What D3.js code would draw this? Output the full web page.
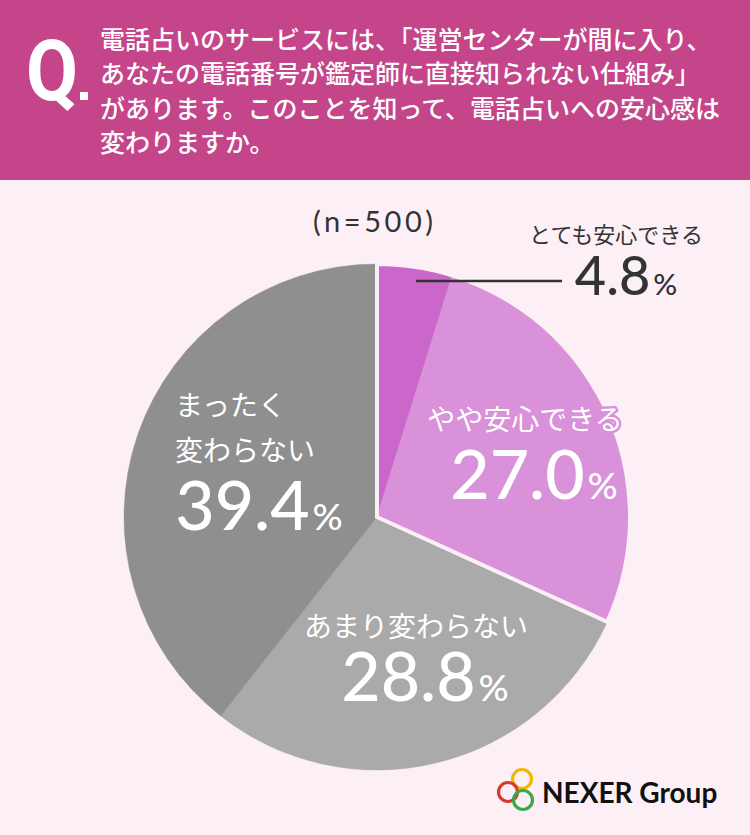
<!DOCTYPE html>
<html><head><meta charset="utf-8">
<script src="https://cdn.jsdelivr.net/npm/d3@7/dist/d3.min.js"></script>
<style>
html,body{margin:0;padding:0;background:#fcf0f6;}
svg{display:block;font-family:"Noto Sans CJK JP","Noto Sans",sans-serif;}
</style></head>
<body>
<svg id="chart" width="750" height="835"></svg>
<script>
const categories = ["とても安心できる","やや安心できる","あまり変わらない","まったく変わらない"];
const values = [4.8, 27.0, 28.8, 39.4];
const colors = ["#cb67cb","#d992d9","#aaaaaa","#8f8f8f"];
const questionLines = [
  "電話占いのサービスには、「運営センターが間に入り、",
  "あなたの電話番号が鑑定師に直接知られない仕組み」",
  "があります。このことを知って、電話占いへの安心感は",
  "変わりますか。"
];
const sampleLabel = "(n=500)";

const svg = d3.select("#chart");
const W = 750, H = 835;
svg.append("rect").attr("width",W).attr("height",H).attr("fill","#fcf0f6");

// Header
svg.append("rect").attr("width",W).attr("height",180).attr("fill","#c4458a");
svg.append("text").attr("x",26).attr("y",100).attr("fill","#fff")
  .attr("font-size",86).attr("font-weight",700).attr("font-family","Roboto, 'Noto Sans', sans-serif")
  .attr("textLength",52).attr("lengthAdjust","spacingAndGlyphs").text("Q");
svg.append("rect").attr("x",80).attr("y",92).attr("width",8).attr("height",8).attr("fill","#fff");
const qt = svg.append("text").attr("fill","#fff").attr("font-size",25).attr("font-weight",500);
questionLines.forEach((l,i)=>{
  qt.append("tspan").attr("x",100).attr("y",49+i*34.3).text(l);
});

// Pie
const cx = 377, cy = 517, R = 253;
const pie = d3.pie().sort(null).value(d=>d);
const arcs = pie(values);
const arcGen = d3.arc().innerRadius(0).outerRadius(R);
const g = svg.append("g").attr("transform",`translate(${cx},${cy})`);
g.selectAll("path.slice").data(arcs).join("path").attr("class","slice")
  .attr("d",arcGen).attr("fill",(d,i)=>colors[i]).attr("stroke",(d,i)=>colors[i]).attr("stroke-width",0.5);
// white outline around the "安心" group
const groupArc = {startAngle: arcs[0].startAngle, endAngle: arcs[1].endAngle};
g.append("path").attr("d",arcGen(groupArc)).attr("fill","none")
  .attr("stroke","#fcf0f6").attr("stroke-width",4).attr("stroke-linejoin","miter");

// n label
svg.append("text").attr("x",313).attr("y",232)
  .attr("font-size",29).attr("fill","#333").attr("font-family","Lato, 'Noto Sans CJK JP', sans-serif")
  .attr("textLength",120).attr("lengthAdjust","spacing").text(sampleLabel);

// Leader for small slice
svg.append("line").attr("x1",416).attr("x2",562).attr("y1",281).attr("y2",281)
  .attr("stroke","#333").attr("stroke-width",2.5);
svg.append("text").attr("x",616).attr("y",243).attr("text-anchor","middle")
  .attr("font-size",22).attr("fill","#333").text(categories[0]);

function pct(x,y,v,size,color,anchor){
  const t = svg.append("text").attr("x",x).attr("y",y).attr("text-anchor",anchor||"middle")
    .attr("fill",color).attr("font-family","Lato, 'Noto Sans', sans-serif").attr("font-weight",500);
  t.append("tspan").attr("font-size",size).text(v.toFixed(1));
  t.append("tspan").attr("font-size",size*0.55).attr("dx",3).text("%");
  return t;
}
pct(626,295,values[0],54,"#333");

// やや安心できる
svg.append("text").attr("x",525).attr("y",430).attr("text-anchor","middle")
  .attr("font-size",28).attr("fill","#fff").attr("stroke",colors[1]).attr("stroke-width",5)
  .attr("paint-order","stroke").attr("stroke-linejoin","round").text(categories[1]);
pct(534,499,values[1],68,"#fff");

// あまり変わらない
svg.append("text").attr("x",416).attr("y",637).attr("text-anchor","middle")
  .attr("font-size",28).attr("fill","#fff").text(categories[2]);
pct(425,701,values[2],68,"#fff");

// まったく変わらない
const t4 = svg.append("text").attr("font-size",28).attr("fill","#fff");
t4.append("tspan").attr("x",175).attr("y",416).text(categories[3].slice(0,4));
t4.append("tspan").attr("x",175).attr("y",461).text(categories[3].slice(4));
pct(259,530,values[3],68,"#fff");

// Logo
const logo = svg.append("g");
[["#f2b705",522,779],["#d93a2b",508,792],["#3aa84a",523,800]].forEach(([c,x,y])=>{
  logo.append("circle").attr("cx",x).attr("cy",y).attr("r",9.5).attr("fill","none")
    .attr("stroke",c).attr("stroke-width",3.2);
});
svg.append("text").attr("x",542).attr("y",803).attr("font-size",28).attr("font-weight",700)
  .attr("fill","#111").attr("font-family","Lato, 'Noto Sans', sans-serif").text("NEXER Group");
</script>
</body></html>
